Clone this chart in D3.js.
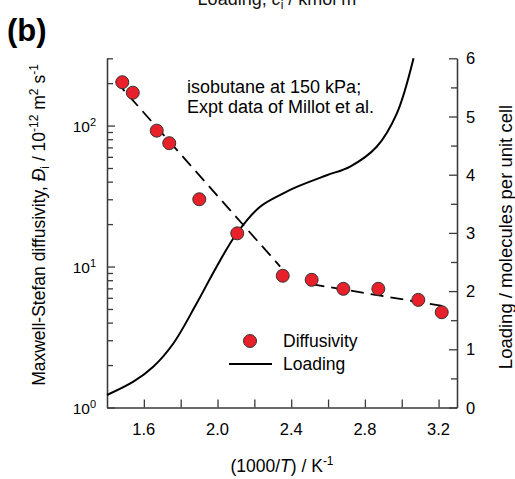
<!DOCTYPE html>
<html lang="en">
<head>
  <meta charset="UTF-8" />
  <title>Isobutane diffusivity and loading</title>
  <style>
    body { margin: 0; background: #fff; }
    svg { display: block; font-family: "Liberation Sans", Arial, sans-serif; }
  </style>
</head>
<body>
  <svg id="chart" width="515" height="479"></svg>

  <script src="https://d3js.org/d3.v7.min.js"></script>
  <script>
    // experimental diffusivity (Millot et al.)
    const invT = [1.483, 1.540, 1.670, 1.738, 1.901, 2.107, 2.354, 2.511, 2.683, 2.873, 3.090, 3.217];
    const diffusivity = [203, 171, 92, 75, 30, 17.2, 8.6, 8.05, 6.95, 6.95, 5.8, 4.74];

    // dashed guide lines (two straight segments on log scale)
    const fitAX = [1.449, 2.34], fitAY = [206, 10];
    const fitBX = [2.51, 3.22], fitBY = [7.5, 5.25];

    // loading curve, molecules per unit cell
    const loadX = [1.40, 1.543, 1.651, 1.760, 1.887, 1.995, 2.104, 2.231, 2.357, 2.43, 2.593, 2.72, 2.864, 2.973, 3.064];
    const loadY = [0.215, 0.443, 0.70, 1.10, 1.79, 2.42, 2.99, 3.45, 3.68, 3.79, 3.99, 4.14, 4.48, 5.05, 6.0];

    const xTicks = [1.6, 1.8, 2.0, 2.2, 2.4, 2.6, 2.8, 3.0, 3.2];
    const xLabels = [1.6, 2.0, 2.4, 2.8, 3.2];
    const yMajor = [1, 10, 100];
    const rightMajor = [0, 1, 2, 3, 4, 5, 6];

    const L = 107, R = 457, T = 58.3, B = 407.5;
    const svg = d3.select("#chart");
    const axisCol = "#3a3a3a";

    const x = d3.scaleLinear().domain([1.4, 3.3]).range([L, R]);
    const y = d3.scaleLog().domain([1, 300]).range([B, T]);
    const y2 = d3.scaleLinear().domain([0, 6]).range([B, T]);

    // cut-off top axis title
    const topTitle = svg.append("text").attr("x", 277).attr("y", 5).attr("text-anchor", "middle")
      .attr("font-size", 18).attr("fill", "#111");
    topTitle.append("tspan").text("Loading, ");
    topTitle.append("tspan").attr("font-style", "italic").text("c");
    topTitle.append("tspan").attr("font-size", 12).attr("dy", 4).text("i");
    topTitle.append("tspan").attr("dy", -4).text(" / kmol m");

    svg.append("text").attr("x", 7).attr("y", 41).attr("font-size", 31)
      .attr("font-weight", "bold").text("(b)");

    // bottom axis
    const gx = svg.append("g").attr("transform", `translate(0,${B})`)
      .call(d3.axisBottom(x).tickValues(xTicks).tickSizeInner(-8).tickSizeOuter(0).tickFormat(""));
    svg.append("g").selectAll("text").data(xLabels).join("text")
      .attr("x", d => x(d)).attr("y", B + 27).attr("text-anchor", "middle")
      .attr("font-size", 16.5).text(d => d.toFixed(1));

    // left log axis
    const minor = [];
    [1, 10, 100].forEach(dec => d3.range(2, 10).forEach(k => { if (dec * k <= 300) minor.push(dec * k); }));
    svg.append("g").attr("transform", `translate(${L},0)`)
      .call(d3.axisLeft(y).tickValues(minor).tickSizeInner(-6).tickSizeOuter(0).tickFormat(""));
    svg.append("g").attr("transform", `translate(${L},0)`)
      .call(d3.axisLeft(y).tickValues(yMajor).tickSizeInner(-8).tickSizeOuter(0).tickFormat(""));
    const yl = svg.append("g").selectAll("text").data(yMajor).join("text")
      .attr("x", 96).attr("y", d => y(d) + 6).attr("text-anchor", "end").attr("font-size", 15.5);
    yl.append("tspan").text("10");
    yl.append("tspan").attr("font-size", 11).attr("dy", -6).text(d => Math.round(Math.log10(d)));

    // right axis
    svg.append("g").attr("transform", `translate(${R},0)`)
      .call(d3.axisRight(y2).tickValues(d3.range(0.5, 6, 1)).tickSizeInner(-6).tickSizeOuter(0).tickFormat(""));
    svg.append("g").attr("transform", `translate(${R},0)`)
      .call(d3.axisRight(y2).tickValues(rightMajor).tickSizeInner(-8).tickSizeOuter(0).tickFormat(""));
    svg.append("g").selectAll("text").data(rightMajor).join("text")
      .attr("x", 466).attr("y", d => y2(d) + 6).attr("font-size", 16.5).text(d => d);

    svg.selectAll(".domain, .tick line").attr("stroke", axisCol).attr("stroke-width", 1.3);

    // axis titles
    const xt = svg.append("text").attr("x", 282).attr("y", 472).attr("text-anchor", "middle").attr("font-size", 17.5);
    xt.append("tspan").text("(1000/");
    xt.append("tspan").attr("font-style", "italic").text("T");
    xt.append("tspan").text(") / K");
    xt.append("tspan").attr("font-size", 12).attr("dy", -7).text("-1");

    const lt = svg.append("text").attr("transform", "translate(45,225) rotate(-90)")
      .attr("text-anchor", "middle").attr("font-size", 17.5);
    lt.append("tspan").text("Maxwell-Stefan diffusivity, ");
    lt.append("tspan").attr("font-style", "italic").text("Đ");
    lt.append("tspan").attr("font-size", 12).attr("dy", 4).text("i");
    lt.append("tspan").attr("dy", -4).text(" / 10");
    lt.append("tspan").attr("font-size", 12).attr("dy", -7).text("-12");
    lt.append("tspan").attr("dy", 7).text(" m");
    lt.append("tspan").attr("font-size", 12).attr("dy", -7).text("2");
    lt.append("tspan").attr("dy", 7).text(" s");
    lt.append("tspan").attr("font-size", 12).attr("dy", -7).text("-1");

    svg.append("text").attr("transform", "translate(512,237) rotate(-90)")
      .attr("text-anchor", "middle").attr("font-size", 18.5).text("Loading / molecules per unit cell");

    // annotation
    svg.append("text").attr("x", 187).attr("y", 93).attr("font-size", 18).text("isobutane at 150 kPa;");
    svg.append("text").attr("x", 187).attr("y", 113).attr("font-size", 18).text("Expt data of Millot et al.");

    // loading curve
    const loadPts = loadX.map((v, i) => [v, loadY[i]]);
    svg.append("path").datum(loadPts)
      .attr("fill", "none").attr("stroke", "#000").attr("stroke-width", 2)
      .attr("d", d3.line().x(d => x(d[0])).y(d => y2(d[1])).curve(d3.curveCatmullRom));

    // dashed fit segments
    [[fitAX, fitAY], [fitBX, fitBY]].forEach(([fx, fy]) => {
      svg.append("path").datum(fx.map((v, i) => [v, fy[i]]))
        .attr("fill", "none").attr("stroke", "#000").attr("stroke-width", 1.8)
        .attr("stroke-dasharray", "13,7")
        .attr("d", d3.line().x(d => x(d[0])).y(d => y(d[1])));
    });

    // data points
    svg.append("g").selectAll("circle").data(invT).join("circle")
      .attr("cx", d => x(d)).attr("cy", (d, i) => y(diffusivity[i])).attr("r", 6.5)
      .attr("fill", "#e8202a").attr("stroke", "#333").attr("stroke-width", 1);

    // legend
    const lg = svg.append("g");
    lg.append("circle").attr("cx", 250).attr("cy", 341).attr("r", 6.5)
      .attr("fill", "#e8202a").attr("stroke", "#333").attr("stroke-width", 1);
    lg.append("text").attr("x", 283).attr("y", 347).attr("font-size", 17.5).text("Diffusivity");
    lg.append("line").attr("x1", 229).attr("x2", 272).attr("y1", 364).attr("y2", 364)
      .attr("stroke", "#000").attr("stroke-width", 2);
    lg.append("text").attr("x", 283).attr("y", 370).attr("font-size", 17.5).text("Loading");
  </script>
</body>
</html>
